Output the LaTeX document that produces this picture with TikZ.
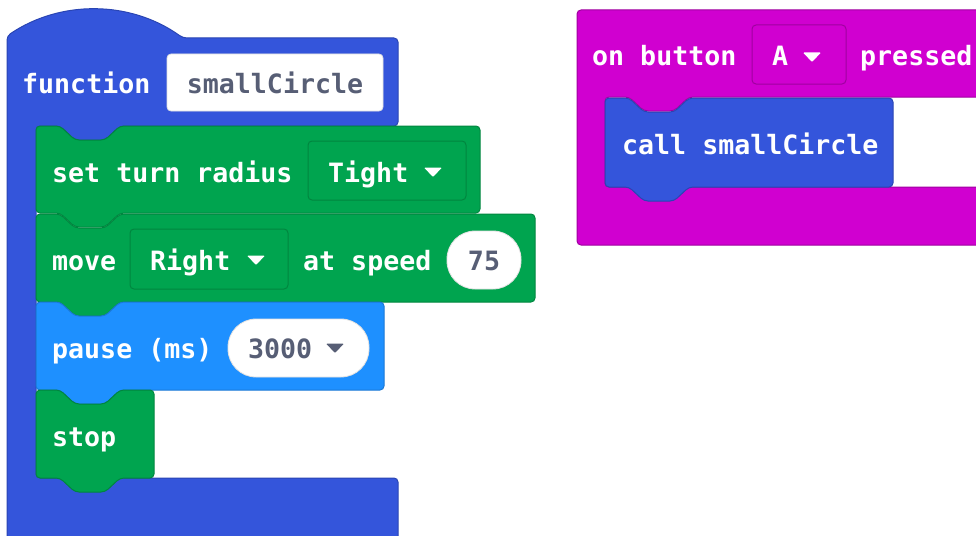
\documentclass[tikz,border=0pt]{standalone}
\usepackage{fontspec}
\setmonofont{DejaVu Sans Mono}

\definecolor{fnblue}{HTML}{3455DB}
\definecolor{fnline}{HTML}{2A45B3}
\definecolor{motgreen}{HTML}{00A44F}
\definecolor{motline}{HTML}{00863F}
\definecolor{pauseblue}{HTML}{1E90FF}
\definecolor{pauseline}{HTML}{1A78D6}
\definecolor{inmag}{HTML}{D000D0}
\definecolor{inline}{HTML}{A000A0}
\definecolor{fieldtext}{HTML}{575E75}

\newcommand{\blocktext}{\ttfamily\bfseries\fontsize{26.6}{30}\selectfont}

% statement block with notch on top and tab below
\newcommand{\stackblock}[5]{%
  \filldraw[#5] (#1,#2) -- ({#1+24},#2) -- ({#1+39},{#2+14}) -- ({#1+69},{#2+14})
    -- ({#1+84},#2) -- (#3,#2) -- (#3,#4) -- ({#1+84},#4) -- ({#1+69},{#4+14})
    -- ({#1+39},{#4+14}) -- ({#1+24},#4) -- (#1,#4) -- cycle;}

\newcommand{\droparrow}[3]{%
  \fill[#3, rounded corners=1pt] ({#1-9},{#2-4.5}) -- ({#1+9},{#2-4.5}) -- (#1,{#2+5}) -- cycle;}

\tikzset{
  blk/.style={rounded corners=4pt, line width=1pt},
  greenblk/.style={blk, fill=motgreen, draw=motline},
  fnblk/.style={blk, fill=fnblue, draw=fnline},
  pauseblk/.style={blk, fill=pauseblue, draw=pauseline},
  magblk/.style={blk, fill=inmag, draw=inline},
  whitefield/.style={fill=white, draw=black!12, line width=0.8pt},
}

\begin{document}
\begin{tikzpicture}[x=1pt,y=-1pt]
  \useasboundingbox (0,0) rectangle (976,535);
  \clip (0,0) rectangle (976,535);

  % function block
  \filldraw[fnblk] (7,36) .. controls (60,0) and (130,0) .. (183,38) -- (398,38) -- (398,126)
    -- (120,126) -- (105,140) -- (75,140) -- (60,126) -- (36,126) -- (36,478)
    -- (398,478) -- (398,560) -- (7,560) -- cycle;
  \filldraw[whitefield, rounded corners=4pt] (167,54) rectangle (383,111);

  \stackblock{36}{126}{480}{213}{greenblk}
  \draw[motline, line width=1pt, rounded corners=4pt] (308,141) rectangle (466,200);
  \stackblock{36}{214}{535}{302}{greenblk}
  \draw[motline, line width=1pt, rounded corners=4pt] (130,229) rectangle (288,289);
  \filldraw[whitefield, rounded corners=28pt] (447,231) rectangle (521,289);
  \stackblock{36}{302}{384}{390}{pauseblk}
  \filldraw[whitefield, rounded corners=28pt] (228,319) rectangle (369,377);
  \stackblock{36}{390}{154}{478}{greenblk}

  % button event block
  \filldraw[magblk] (577,10) -- (1000,10) -- (1000,97) -- (689,97) -- (674,111)
    -- (644,111) -- (629,97) -- (605,97) -- (605,187) -- (1000,187)
    -- (1000,245) -- (577,245) -- cycle;
  \draw[inline, line width=1pt, rounded corners=4pt] (752,25) rectangle (846,84);
  \stackblock{605}{98}{893}{187}{fnblk}

  \droparrow{433}{172}{white}
  \droparrow{256}{260}{white}
  \droparrow{335}{348}{fieldtext}
  \droparrow{812}{57}{white}

  \begin{scope}[every node/.style={font=\blocktext, text=white, inner sep=0pt, anchor=base west}]
    \node (fn)     at (22,93)   {function};
    \node[text=fieldtext, anchor=base] (fname) at (275,93) {smallCircle};
    \node (turn)   at (52,182)  {set turn radius};
    \node (tight)  at (328,182) {Tight};
    \node (move)   at (52,270)  {move};
    \node (right)  at (150,270) {Right};
    \node (speed)  at (303,270) {at speed};
    \node[text=fieldtext, anchor=base] (val) at (484,270) {75};
    \node (pause)  at (52,358)  {pause (ms)};
    \node[text=fieldtext] (ms) at (248,358) {3000};
    \node (stop)   at (52,446)  {stop};
    \node (onbtn)  at (592,65)  {on button};
    \node (btn)    at (772,65)  {A};
    \node (press)  at (860,65)  {pressed};
    \node (call)   at (622,154) {call smallCircle};
  \end{scope}

\end{tikzpicture}
\end{document}
